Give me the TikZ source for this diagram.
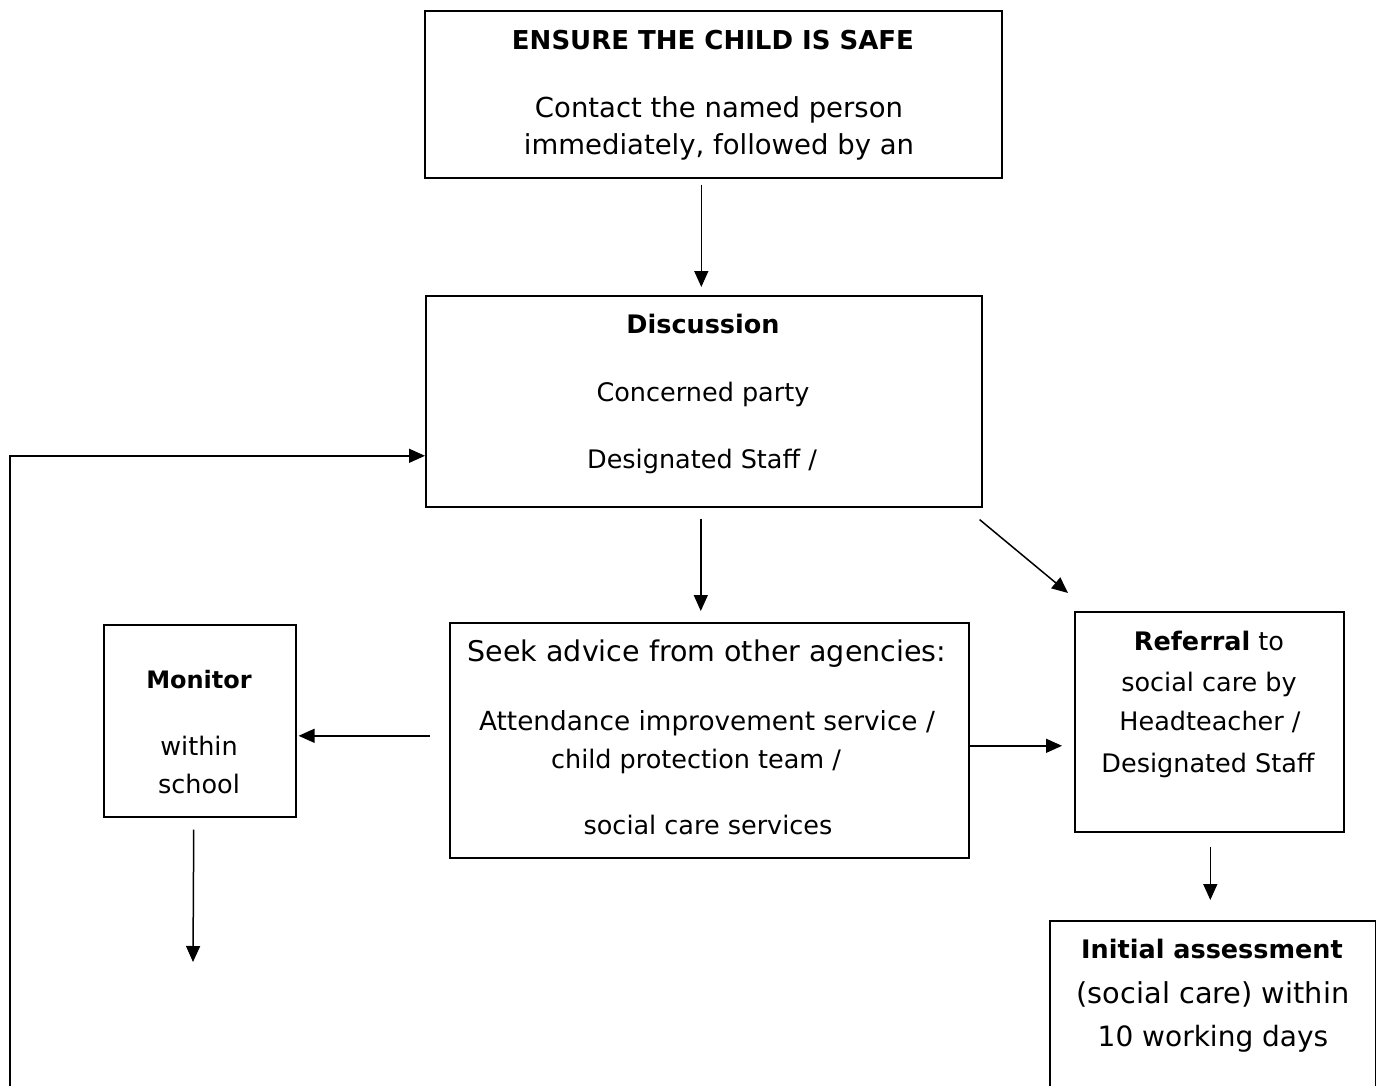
\documentclass[tikz,border=0pt]{standalone}
\usepackage{fontspec}
\setmainfont{DejaVu Sans}
\usetikzlibrary{arrows.meta, positioning}

\tikzset{
  box/.style={draw, line width=1.6pt, inner sep=0pt, anchor=north west},
  txt/.style={anchor=base, inner sep=0pt, font=\fontsize{25.5}{30}\selectfont},
  bigtxt/.style={anchor=base, inner sep=0pt, font=\fontsize{27.5}{32}\selectfont},
  arr/.style={line width=1.5pt, -{Triangle[length=16pt,width=14pt]}},
}

\begin{document}
\begin{tikzpicture}[x=1pt, y=-1pt]
\useasboundingbox (0,0) rectangle (1376,1086);

% boxes
\node[box, minimum width=577pt, minimum height=167pt] (safe) at (424,10) {};
\node[box, minimum width=556pt, minimum height=211pt] (disc) at (425,295) {};
\node[box, minimum width=519pt, minimum height=235pt] (seek) at (449,622) {};
\node[box, minimum width=192pt, minimum height=192pt] (mon) at (103,624) {};
\node[box, minimum width=269pt, minimum height=220pt] (refer) at (1074,611) {};
\node[box, minimum width=326pt, minimum height=200pt] (init) at (1049,920) {};

% texts
\node[bigtxt, font=\fontsize{26}{30}\selectfont\bfseries] (safeA) at (713,50) {ENSURE THE CHILD IS SAFE};
\node[bigtxt] (safeB) at (719,118) {Contact the named person};
\node[bigtxt] (safeC) at (719,155) {immediately, followed by an};

\node[txt] (discA) at (703,333) {\bfseries Discussion};
\node[txt] (discB) at (703,401) {Concerned party};
\node[txt] (discC) at (702,468) {Designated Staff /};

\node[bigtxt, font=\fontsize{28.5}{32}\selectfont] (seekA) at (707,661) {Seek advice from other agencies:};
\node[txt, font=\fontsize{26.3}{30}\selectfont] (seekB) at (707,730) {Attendance improvement service /};
\node[txt] (seekC) at (696,768) {child protection team /};
\node[txt] (seekD) at (708,834) {social care services};

\node[txt, font=\fontsize{24}{28}\selectfont\bfseries] (monA) at (199,688) {Monitor};
\node[txt] (monB) at (199,755) {within};
\node[txt] (monC) at (199,793) {school};

\node[txt] (refA) at (1209,650) {\textbf{Referral} to};
\node[txt] (refB) at (1209,691) {social care by};
\node[txt] (refC) at (1210,730) {Headteacher /};
\node[txt] (refD) at (1208,772) {Designated Staff};

\node[bigtxt, font=\fontsize{25.5}{30}\selectfont\bfseries] (initA) at (1212,958) {Initial assessment};
\node[bigtxt, font=\fontsize{28.8}{32}\selectfont] (initB) at (1213,1003) {(social care) within};
\node[bigtxt, font=\fontsize{28}{32}\selectfont] (initC) at (1213,1046) {10 working days};

% connectors
\coordinate (monend) at (193,962);
\coordinate (loopbot) at (10,1086);
\draw[arr, shorten <=6pt, shorten >=8pt] ([xshift=-12pt]safe.south) -- ([xshift=-12pt]safe.south |- disc.north);
\draw[arr, shorten <=11pt, shorten >=11pt] ([xshift=-3pt]disc.south) -- ([xshift=-3pt]disc.south |- seek.north);
\draw[arr] ([xshift=-3pt,yshift=-12pt]disc.south east) -- ([xshift=-6pt,yshift=18pt]refer.north west);
\draw[arr, shorten <=19pt, shorten >=2pt] ([yshift=4.5pt]seek.west) -- ([yshift=4.5pt]seek.west -| mon.east);
\draw[arr, shorten >=12pt] ([yshift=-5.5pt]seek.east) -- ([yshift=-5.5pt]seek.east -| refer.west);
\draw[arr, shorten <=14pt, shorten >=20pt] ([xshift=1pt]refer.south) -- ([xshift=1pt]refer.south |- init.north);
\draw[arr, shorten <=12pt] ([xshift=-6pt]mon.south) -- (monend);
\draw[arr] (loopbot) |- ([yshift=-54.5pt]disc.west);
\end{tikzpicture}
\end{document}
